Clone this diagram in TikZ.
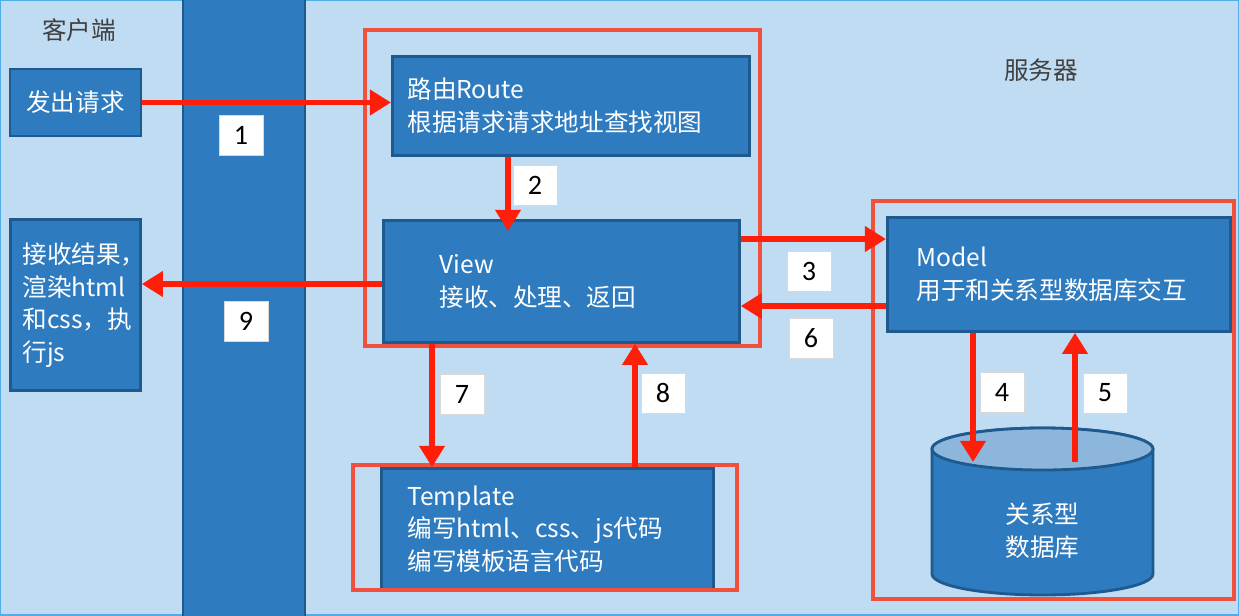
\documentclass[tikz,border=0pt]{standalone}
\usepackage{fontspec}
\setmainfont{Noto Sans CJK SC}
\newfontfamily\numfont{Carlito}
\usetikzlibrary{arrows.meta,positioning}
\definecolor{bgBlue}{HTML}{C0DCF2}
\definecolor{rimCyan}{HTML}{4FAEE8}
\definecolor{boxBlue}{HTML}{2E7BBF}
\definecolor{boxEdge}{HTML}{1F5A8E}
\definecolor{dbTop}{HTML}{8DB6DC}
\definecolor{flowRed}{HTML}{FF1E0A}
\definecolor{frameRed}{HTML}{F0503C}

\tikzset{
  box/.style={draw=boxEdge,fill=boxBlue,line width=1.6pt,text=white,
              font=\fontsize{14}{18.5}\selectfont,anchor=north west,inner ysep=0pt},
  redframe/.style={draw=frameRed,line width=1.9pt},
  flow/.style={draw=flowRed,line width=3.4pt,-{Triangle[length=12pt,width=14pt]}},
  numlbl/.style={draw=black!15,fill=white,minimum width=0.88cm,minimum height=0.8cm,
                 font=\numfont\fontsize{16}{18}\selectfont,inner sep=0pt},
  title/.style={text=black!75,font=\fontsize{14}{16}\selectfont},
}

\begin{document}
\begin{tikzpicture}[x=0.02cm,y=-0.02cm]
\useasboundingbox (0,0) rectangle (1239,615);
\fill[bgBlue] (0,0) rectangle (1239,615);
\draw[rimCyan,line width=1.2pt] (0,0) rectangle (1239,615);

% network channel between client and server
\draw[draw=boxEdge,fill=boxBlue,line width=1.6pt] (183,-5) rectangle (305,620);

\node[title] (client) at (79,30) {客户端};
\node[title] (server) at (1041,70) {服务器};

% client side
\node[box,anchor=center,minimum width=2.62cm,minimum height=1.34cm,align=center] (req) at (75.5,102.5) {发出请求};
\node[box,text width=2.12cm,inner xsep=0.24cm,minimum height=3.42cm,align=left] (res) at (9,218)
  {接收结果，\\渲染html\\和css，执\\行js};

% server side
\node[box,text width=6.54cm,inner xsep=0.3cm,minimum height=1.98cm,align=left] (route) at (391,55)
  {路由Route\\根据请求请求地址查找视图};
\node[box,text width=4.88cm,inner xsep=1.12cm,minimum height=2.44cm,align=left] (view) at (382,219)
  {View\\接收、处理、返回};
\node[box,text width=5.7cm,inner xsep=0.58cm,minimum height=2.28cm,align=left] (model) at (886,216)
  {Model\\用于和关系型数据库交互};
\node[box,text width=5.6cm,inner xsep=0.52cm,minimum height=2.42cm,align=left] (tpl) at (380,467)
  {Template\\编写html、css、js代码\\编写模板语言代码};

% database
\draw[draw=boxEdge,fill=boxBlue,line width=1.6pt] (932,449) -- (932,574)
  arc[start angle=180,end angle=360,x radius=2.21cm,y radius=0.42cm] -- (1153,449)
  arc[start angle=0,end angle=180,x radius=2.21cm,y radius=0.42cm] -- cycle;
\draw[draw=boxEdge,fill=dbTop,line width=1.6pt] (1042.5,449) ellipse [x radius=2.21cm,y radius=0.42cm];
\node[text=white,font=\fontsize{14}{18.5}\selectfont,align=center] (db) at (1042.5,531) {关系型\\数据库};
\coordinate (dbin) at (973,462);
\coordinate (dbout) at (1075,462);
\coordinate (viewin) at (508,231);

\draw[redframe] (365,30) rectangle (760,346);
\draw[redframe] (873,201) rectangle (1234,599);
\draw[redframe] (353,465) rectangle (737,590);

% request / response flow
\draw[flow] (req.east) -- (req.east -| route.west);
\draw[flow] (route.south -| viewin) -- (viewin);
\draw[flow] (view.east |- 0,239) -- (model.west |- 0,239);
\draw[flow] (model.south -| dbin) -- (dbin);
\draw[flow] (dbout) -- (model.south -| dbout);
\draw[flow] (model.west |- 0,306) -- (view.east |- 0,306);
\draw[flow] (view.south -| 432,0) -- (tpl.north -| 432,0);
\draw[flow] (tpl.north -| 635,0) -- (view.south -| 635,0);
\draw[flow] (view.west |- 0,284) -- (res.east |- 0,284);

\node[numlbl] (n1) at (241,135) {1};
\node[numlbl] (n2) at (535,185) {2};
\node[numlbl] (n3) at (809,271) {3};
\node[numlbl] (n4) at (1002,392) {4};
\node[numlbl] (n5) at (1105,393) {5};
\node[numlbl] (n6) at (811,338) {6};
\node[numlbl] (n7) at (462,394) {7};
\node[numlbl] (n8) at (663,393) {8};
\node[numlbl] (n9) at (246,321) {9};
\end{tikzpicture}
\end{document}
